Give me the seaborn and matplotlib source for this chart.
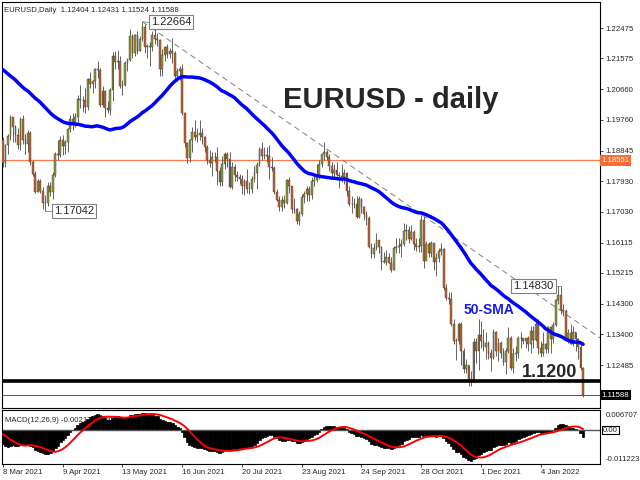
import matplotlib
matplotlib.use("Agg")
import matplotlib.pyplot as plt
import matplotlib.transforms as mtransforms
import numpy as np
import pandas as pd
import seaborn as sns

# closes before the first bar (only used to warm up SMA / MACD)
pre_close = [1.2215, 1.2248, 1.2295, 1.2215,
             1.2248, 1.2297, 1.2325, 1.2270, 1.2218, 1.2150, 1.2208, 1.2157, 1.2155, 1.2080,
             1.2076, 1.2130, 1.2107, 1.2165, 1.2170, 1.2140, 1.2160, 1.2110, 1.2120, 1.2136,
             1.2060, 1.2040, 1.2037, 1.1962, 1.2048, 1.2050, 1.2118, 1.2119, 1.2132, 1.2118,
             1.2128, 1.2105, 1.2040, 1.2092, 1.2118, 1.2154, 1.2150, 1.2165, 1.2175, 1.2075,
             1.2048, 1.2090, 1.2063, 1.1965, 1.1915]
first_open = 1.1915

close = [
    # Mar
    1.1847, 1.1900, 1.1928, 1.1985, 1.1953, 1.1930, 1.1900, 1.1978, 1.1915, 1.1904, 1.1938, 1.1850,
    1.1815, 1.1762, 1.1794, 1.1764, 1.1728, 1.1730,
    # Apr
    1.1778, 1.1763, 1.1812, 1.1874, 1.1871, 1.1917, 1.1899, 1.1911, 1.1948, 1.1978, 1.1966, 1.1983,
    1.2036, 1.2034, 1.2033, 1.2015, 1.2097, 1.2083, 1.2090, 1.2126, 1.2123, 1.2020,
    # May
    1.2061, 1.2012, 1.2005, 1.2065, 1.2164, 1.2148, 1.2150, 1.2075, 1.2080, 1.2144, 1.2153, 1.2224,
    1.2175, 1.2226, 1.2180, 1.2214, 1.2250, 1.2193, 1.2193, 1.2193, 1.2226,
    # Jun
    1.2214, 1.2212, 1.2127, 1.2167, 1.2191, 1.2171, 1.2179, 1.2174, 1.2107, 1.2120, 1.2125, 1.1995,
    1.1906, 1.1862, 1.1915, 1.1940, 1.1925, 1.1930, 1.1936, 1.1925, 1.1895, 1.1857,
    # Jul
    1.1847, 1.1866, 1.1866, 1.1825, 1.1790, 1.1845, 1.1875, 1.1860, 1.1777, 1.1835, 1.1812, 1.1805,
    1.1800, 1.1780, 1.1795, 1.1770, 1.1771, 1.1800, 1.1817, 1.1843, 1.1889, 1.1868,
    # Aug
    1.1870, 1.1867, 1.1835, 1.1833, 1.1762, 1.1737, 1.1718, 1.1738, 1.1730, 1.1796, 1.1778, 1.1710,
    1.1710, 1.1676, 1.1697, 1.1747, 1.1755, 1.1771, 1.1752, 1.1795, 1.1798, 1.1808,
    # Sep
    1.1845, 1.1875, 1.1880, 1.1866, 1.1840, 1.1818, 1.1826, 1.1813, 1.1808, 1.1805, 1.1817, 1.1765,
    1.1725, 1.1727, 1.1725, 1.1688, 1.1740, 1.1718, 1.1695, 1.1683, 1.1598, 1.1578,
    # Oct
    1.1595, 1.1620, 1.1598, 1.1555, 1.1555, 1.1570, 1.1552, 1.1530, 1.1595, 1.1598, 1.1602, 1.1608,
    1.1647, 1.1650, 1.1622, 1.1643, 1.1608, 1.1597, 1.1602, 1.1680, 1.1558,
    # Nov
    1.1607, 1.1580, 1.1610, 1.1553, 1.1567, 1.1587, 1.1592, 1.1478, 1.1446, 1.1444, 1.1370, 1.1320,
    1.1320, 1.1370, 1.1289, 1.1238, 1.1250, 1.1198, 1.1208, 1.1318, 1.1290, 1.1338,
    # Dec
    1.1320, 1.1302, 1.1315, 1.1285, 1.1268, 1.1345, 1.1290, 1.1315, 1.1285, 1.1258, 1.1290, 1.1330,
    1.1240, 1.1280, 1.1283, 1.1330, 1.1328, 1.1320, 1.1328, 1.1310, 1.1350, 1.1323, 1.1370,
    # Jan
    1.1298, 1.1285, 1.1312, 1.1295, 1.1360, 1.1326, 1.1368, 1.1441, 1.1455, 1.1413, 1.1408, 1.1325,
    1.1344, 1.1310, 1.1345, 1.1325, 1.1302, 1.12404, 1.11588]

high = [
    1.1925, 1.1905, 1.1935, 1.1990, 1.1985, 1.1960, 1.1952, 1.1985, 1.1989, 1.1935, 1.1945, 1.1942,
    1.1855, 1.1825, 1.1800, 1.1800, 1.1775, 1.1752,
    1.1790, 1.1790, 1.1820, 1.1880, 1.1915, 1.1927, 1.1930, 1.1915, 1.1950, 1.1990, 1.1995, 1.1995,
    1.2048, 1.2080, 1.2045, 1.2070, 1.2100, 1.2117, 1.2095, 1.2130, 1.2150, 1.2130,
    1.2075, 1.2065, 1.2030, 1.2070, 1.2177, 1.2180, 1.2182, 1.2165, 1.2095, 1.2150, 1.2160, 1.2245,
    1.2230, 1.2230, 1.2240, 1.2225, 1.22664, 1.2260, 1.2200, 1.2205, 1.2240,
    1.2255, 1.2232, 1.2215, 1.2185, 1.2195, 1.2200, 1.2190, 1.2218, 1.2180, 1.2130, 1.2135, 1.2140,
    1.2000, 1.1910, 1.1920, 1.1955, 1.1975, 1.1950, 1.1975, 1.1950, 1.1928, 1.1900,
    1.1885, 1.1880, 1.1880, 1.1895, 1.1835, 1.1868, 1.1880, 1.1880, 1.1880, 1.1850, 1.1845, 1.1825,
    1.1815, 1.1812, 1.1800, 1.1830, 1.1790, 1.1810, 1.1840, 1.1850, 1.1895, 1.1909,
    1.1895, 1.1895, 1.1900, 1.1865, 1.1840, 1.1770, 1.1750, 1.1750, 1.1752, 1.1800, 1.1805, 1.1780,
    1.1745, 1.1715, 1.1705, 1.1755, 1.1765, 1.1780, 1.1780, 1.1805, 1.1810, 1.1845,
    1.1855, 1.1875, 1.1909, 1.1885, 1.1875, 1.1850, 1.1845, 1.1850, 1.1820, 1.1845, 1.1830, 1.1820,
    1.1780, 1.1750, 1.1745, 1.1750, 1.1750, 1.1745, 1.1720, 1.1705, 1.1690, 1.1610,
    1.1610, 1.1640, 1.1620, 1.1600, 1.1585, 1.1590, 1.1580, 1.1570, 1.1600, 1.1625, 1.1625, 1.1622,
    1.1670, 1.1668, 1.1660, 1.1665, 1.1650, 1.1625, 1.1625, 1.1692, 1.1690,
    1.1616, 1.1612, 1.1617, 1.1610, 1.1580, 1.1595, 1.1610, 1.1595, 1.1490, 1.1465, 1.1465, 1.1385,
    1.1330, 1.1375, 1.1375, 1.1300, 1.1265, 1.1250, 1.1230, 1.1330, 1.1330, 1.1385,
    1.1380, 1.1355, 1.1345, 1.1320, 1.1295, 1.1355, 1.1350, 1.1330, 1.1320, 1.1300, 1.1300, 1.1360,
    1.1335, 1.1300, 1.1305, 1.1335, 1.1345, 1.1330, 1.1330, 1.1335, 1.1365, 1.1365, 1.1385,
    1.1385, 1.1320, 1.1345, 1.1315, 1.1365, 1.1360, 1.1375, 1.1445, 1.1482, 1.14830, 1.1430, 1.1415,
    1.1355, 1.1370, 1.1365, 1.1345, 1.1330, 1.1315, 1.12431]

low = [
    1.1836, 1.1835, 1.1874, 1.1915, 1.1910, 1.1910, 1.1890, 1.1885, 1.1905, 1.1873, 1.1880, 1.1842,
    1.1810, 1.1760, 1.1762, 1.1758, 1.1712, 1.17042,
    1.1720, 1.1750, 1.1740, 1.1805, 1.1855, 1.1865, 1.1870, 1.1875, 1.1880, 1.1940, 1.1945, 1.1955,
    1.1970, 1.2010, 1.2000, 1.1995, 1.2005, 1.2070, 1.2055, 1.2070, 1.2100, 1.2015,
    1.2015, 1.1985, 1.1995, 1.1990, 1.2030, 1.2125, 1.2125, 1.2070, 1.2050, 1.2075, 1.2120, 1.2150,
    1.2160, 1.2165, 1.2170, 1.2180, 1.2210, 1.2175, 1.2160, 1.2135, 1.2180,
    1.2200, 1.2195, 1.2105, 1.2105, 1.2150, 1.2160, 1.2160, 1.2145, 1.2095, 1.2090, 1.2095, 1.1990,
    1.1895, 1.1847, 1.1850, 1.1880, 1.1915, 1.1910, 1.1915, 1.1905, 1.1880, 1.1845,
    1.1835, 1.1808, 1.1850, 1.1782, 1.1780, 1.1780, 1.1830, 1.1835, 1.1772, 1.1770, 1.1795, 1.1795,
    1.1785, 1.1755, 1.1752, 1.1760, 1.1755, 1.1760, 1.1790, 1.1770, 1.1840, 1.1855,
    1.1860, 1.1850, 1.1800, 1.1825, 1.1755, 1.1735, 1.1706, 1.1705, 1.1715, 1.1725, 1.1760, 1.1700,
    1.1700, 1.1666, 1.1664, 1.1690, 1.1730, 1.1735, 1.1735, 1.1740, 1.1780, 1.1790,
    1.1800, 1.1835, 1.1855, 1.1855, 1.1825, 1.1805, 1.1802, 1.1810, 1.1772, 1.1790, 1.1785, 1.1750,
    1.1720, 1.1700, 1.1715, 1.1685, 1.1685, 1.1700, 1.1680, 1.1665, 1.1595, 1.1565,
    1.1565, 1.1590, 1.1580, 1.1529, 1.1550, 1.1545, 1.1550, 1.1524, 1.1530, 1.1580, 1.1580, 1.1570,
    1.1600, 1.1620, 1.1610, 1.1620, 1.1590, 1.1588, 1.1585, 1.1585, 1.1535,
    1.1560, 1.1570, 1.1570, 1.1530, 1.1513, 1.1555, 1.1575, 1.1470, 1.1440, 1.1430, 1.1365, 1.1310,
    1.1262, 1.1310, 1.1250, 1.1225, 1.1225, 1.1186, 1.1185, 1.1205, 1.1255, 1.1235,
    1.1300, 1.1290, 1.1265, 1.1265, 1.1230, 1.1265, 1.1275, 1.1260, 1.1270, 1.1250, 1.1222, 1.1285,
    1.1235, 1.1225, 1.1260, 1.1270, 1.1300, 1.1310, 1.1300, 1.1290, 1.1285, 1.1300, 1.1320,
    1.1280, 1.1272, 1.1275, 1.1285, 1.1285, 1.1285, 1.1315, 1.1365, 1.1430, 1.1400, 1.1395, 1.1320,
    1.1315, 1.1310, 1.1305, 1.1290, 1.1265, 1.1235, 1.11524]

price_ticks = [1.22475, 1.21575, 1.20660, 1.19760, 1.18845, 1.17930, 1.17030,
               1.16115, 1.15215, 1.14300, 1.13400, 1.12485]
hline_price = 1.18551
support = 1.1200
trend_end = 1.1329
macd_max, macd_min = 0.006707, -0.011223

dates = pd.bdate_range("2021-03-08", "2022-01-27")
n = len(close)
idx = np.arange(n)
c = np.array(close)
h = np.array(high)
l = np.array(low)
o = np.concatenate([[first_open], c[:-1]])

s = pd.Series(pre_close + close)
sma = s.rolling(50).mean().to_numpy()[-n:]
macd_s = s.ewm(span=12, adjust=False).mean() - s.ewm(span=26, adjust=False).mean()
signal = macd_s.rolling(9).mean().to_numpy()[-n:]
macd = macd_s.to_numpy()[-n:]

sns.set_style("white", {"axes.edgecolor": "black"})
plt.rcParams["font.family"] = ["Liberation Sans", "DejaVu Sans"]
small = 5.6

fig = plt.figure(figsize=(6.4, 4.8), dpi=100)
ax = fig.add_axes([2 / 640, 72 / 480, 598 / 640, 406 / 480])
ax2 = fig.add_axes([2 / 640, 16 / 480, 598 / 640, 54 / 480])

# candles
up = c >= o
cols = np.where(up, "#8c9a34", "#c8602c")
ax.vlines(idx, l, h, color="#4a4a4a", lw=0.6, zorder=2)
ax.bar(idx, np.maximum(np.abs(c - o), 0.00008), bottom=np.minimum(o, c), width=0.72,
       color=cols, edgecolor="#3a3a3a", linewidth=0.3, zorder=3)

sns.lineplot(x=idx, y=sma, ax=ax, color="#0000ff", linewidth=2.5, zorder=4)

ax.axhline(hline_price, color="#ff7a4a", lw=0.9, zorder=1)
ax.axhline(support, color="black", lw=2.6, zorder=5)
ax.axhline(c[-1], color="#4c4c9c", lw=0.7, zorder=1)

peak = int(np.argmax(h))
ax.plot([peak, 239.8], [h[peak], trend_end], color="#808080", lw=0.7,
        ls=(0, (6, 4)), zorder=2)

box = dict(boxstyle="square,pad=0.18", fc="white", ec="#808080", lw=0.8)
trough = int(np.argmin(l[:60]))
jan_peak = 200 + int(np.argmax(h[200:]))
ax.plot([peak, peak + 2.7], [h[peak], h[peak] - 0.0002], color="#808080", lw=0.6, zorder=6)
ax.text(peak + 3.4, h[peak] - 0.0002, f"{h[peak]:.5f}", fontsize=8, va="center",
        ha="left", bbox=box, zorder=7)
ax.plot([trough, trough + 2.8], [l[trough], l[trough]], color="#808080", lw=0.6, zorder=6)
ax.text(trough + 3.5, l[trough], f"{l[trough]:.5f}", fontsize=8, va="center",
        ha="left", bbox=box, zorder=7)
ax.plot([jan_peak - 2.0, jan_peak], [h[jan_peak], h[jan_peak]], color="#808080", lw=0.6, zorder=6)
ax.text(jan_peak - 2.8, h[jan_peak], f"{h[jan_peak]:.5f}", fontsize=8, va="center",
        ha="right", bbox=box, zorder=7)

ax.text(112.4, 1.2034, "EURUSD - daily", fontsize=21, fontweight="bold",
        va="center", ha="left", zorder=8)
ax.text(185, 1.1412, "50-SMA", fontsize=10, fontweight="bold", color="#1a1ae6",
        va="center", ha="left", zorder=8)
ax.text(208.4, 1.1225, "1.1200", fontsize=13, fontweight="bold",
        va="center", ha="left", zorder=8)
ax.text(0.004, 0.988, "EURUSD,Daily  1.12404 1.12431 1.11524 1.11588",
        transform=ax.transAxes, fontsize=small, va="top", ha="left")

ax.set_xlim(-0.4, 239.8)
ax.set_ylim(1.1121, 1.2325)
ax.set_xticks([])
ax.yaxis.tick_right()
ax.set_yticks(price_ticks)
ax.set_yticklabels([f"{p:.5f}" for p in price_ticks], fontsize=small)
ax.tick_params(axis="y", length=2, width=0.6, pad=2, right=True)

trans = mtransforms.blended_transform_factory(ax.transAxes, ax.transData)
ax.text(1.003, hline_price, f"{hline_price:.5f}", transform=trans, fontsize=small,
        color="white", va="center", ha="left",
        bbox=dict(boxstyle="square,pad=0.2", fc="#ff6a33", ec="none"))
ax.text(1.003, c[-1], f"{c[-1]:.5f}", transform=trans, fontsize=small,
        color="white", va="center", ha="left",
        bbox=dict(boxstyle="square,pad=0.2", fc="black", ec="none"))

# MACD panel
ax2.bar(idx, macd, width=1.0, color="black", edgecolor="black", linewidth=0.5, zorder=2)
sns.lineplot(x=idx, y=signal, ax=ax2, color="#ff0000", linewidth=1.4, zorder=3)
ax2.axhline(0, color="#555555", lw=1.0, zorder=2)
ax2.text(0.005, 0.8, "MACD(12,26,9) -0.002171 0.000283", transform=ax2.transAxes,
         fontsize=small, va="center", ha="left", zorder=1)
ax2.set_xlim(-0.4, 239.8)
ax2.set_ylim(macd_min, macd_max)
ax2.set_yticks([])
tick_pos = idx[::24]
ax2.set_xticks(tick_pos)
ax2.set_xticklabels([f"{d.day} {d:%b %Y}" for d in dates[::24]], fontsize=small, ha="left")
ax2.tick_params(axis="x", length=2, width=0.6, pad=1.5, bottom=True)
zero_frac = (0 - macd_min) / (macd_max - macd_min)
ax2.text(1.01, 0.9, f"{macd_max:.6f}", transform=ax2.transAxes, fontsize=small, va="center")
ax2.text(1.005, zero_frac, "0.00", transform=ax2.transAxes, fontsize=small, va="center",
         bbox=dict(boxstyle="square,pad=0.1", fc="white", ec="black", lw=0.8))
ax2.text(1.01, 0.08, f"{macd_min:.6f}", transform=ax2.transAxes, fontsize=small, va="center")

for a in (ax, ax2):
    for sp in a.spines.values():
        sp.set_color("black")
        sp.set_linewidth(0.8)

fig.savefig("out.png", dpi=100)
